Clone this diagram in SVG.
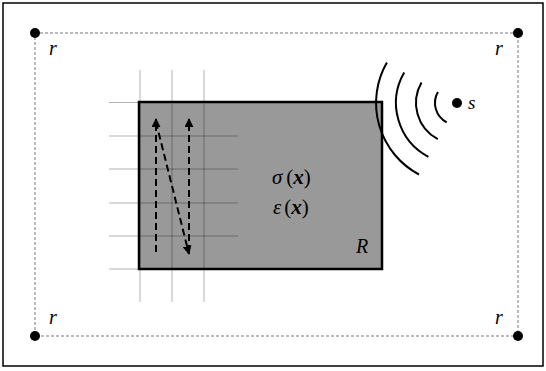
<svg xmlns="http://www.w3.org/2000/svg" width="546" height="371" viewBox="0 0 546 371">
<style>
.lbl{font-family:"Liberation Serif","DejaVu Serif",serif;font-style:italic;fill:#000}
.grid{stroke:#000;stroke-opacity:0.3;stroke-width:1;fill:none}
.wave{stroke:#000;stroke-width:2;fill:none}
.dash{stroke:#000;stroke-width:2;stroke-dasharray:7,4;fill:none}
.corner{fill:#000}
</style>
<defs>
<marker id="ah" viewBox="0 0 10 10" refX="9" refY="5" markerWidth="4.5" markerHeight="4.5" orient="auto" markerUnits="strokeWidth">
<path d="M0,0 L10,5 L0,10 z" fill="#000"/>
</marker>
</defs>
<rect x="3" y="3" width="540" height="363" fill="#fff" stroke="#000" stroke-width="1.5"/>
<g id="boundary">
<rect x="35" y="33" width="483" height="303" fill="none" stroke="#777" stroke-width="1" stroke-dasharray="3,2"/>
</g>
<g id="region-R">
<rect x="139" y="102" width="243" height="167" fill="#999" stroke="#000" stroke-width="2.5"/>
<text class="lbl" x="272" y="184" font-size="21">σ<tspan dx="4" font-style="normal">(</tspan><tspan font-weight="bold">x</tspan><tspan font-style="normal">)</tspan></text>
<text class="lbl" x="273" y="214" font-size="21">ε<tspan dx="3" font-style="normal">(</tspan><tspan font-weight="bold">x</tspan><tspan font-style="normal">)</tspan></text>
<text class="lbl" x="356" y="253" font-size="20">R</text>
</g>
<g id="grid">
<line class="grid" x1="140" y1="70" x2="140" y2="302"/>
<line class="grid" x1="172" y1="70" x2="172" y2="302"/>
<line class="grid" x1="204" y1="70" x2="204" y2="302"/>
<line class="grid" x1="109" y1="102.5" x2="238" y2="102.5"/>
<line class="grid" x1="109" y1="136" x2="238" y2="136"/>
<line class="grid" x1="109" y1="169" x2="238" y2="169"/>
<line class="grid" x1="109" y1="203" x2="238" y2="203"/>
<line class="grid" x1="109" y1="236" x2="238" y2="236"/>
<line class="grid" x1="109" y1="269" x2="238" y2="269"/>
</g>
<g id="connectors">
<line class="dash" x1="156" y1="252" x2="156" y2="119" marker-end="url(#ah)"/>
<line class="dash" x1="156" y1="122" x2="189" y2="254" marker-end="url(#ah)"/>
<line class="dash" x1="189" y1="252" x2="189" y2="119" marker-end="url(#ah)"/>
</g>
<g id="source-s">
<circle cx="457" cy="103" r="5" fill="#000"/>
<path class="wave" d="M437.9,92 A22,22 0 0 0 446.7,122.4"/>
<path class="wave" d="M421.5,82.5 A41,41 0 0 0 437.8,139.2"/>
<path class="wave" d="M404.2,72.5 A61,61 0 0 0 428.4,156.9"/>
<path class="wave" d="M386.9,62.5 A81,81 0 0 0 419,174.5"/>
<text class="lbl" x="468" y="109" font-size="19">s</text>
</g>
<g id="corner-tl"><circle class="corner" cx="35" cy="33" r="5"/><text class="lbl" x="49" y="55" font-size="20">r</text></g>
<g id="corner-tr"><circle class="corner" cx="518" cy="33" r="5"/><text class="lbl" x="495" y="55" font-size="20">r</text></g>
<g id="corner-bl"><circle class="corner" cx="35" cy="336" r="5"/><text class="lbl" x="49" y="324" font-size="20">r</text></g>
<g id="corner-br"><circle class="corner" cx="518" cy="336" r="5"/><text class="lbl" x="495" y="324" font-size="20">r</text></g>
</svg>
